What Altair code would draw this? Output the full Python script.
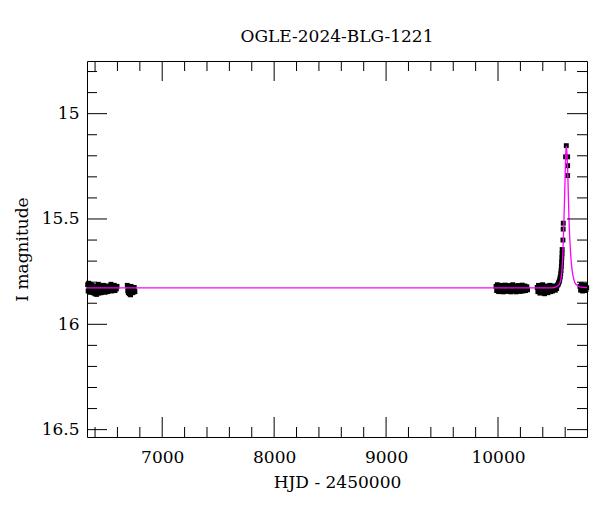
import altair as alt
import pandas as pd

# ---- photometry (HJD - 2450000, I mag) ----
t_a = [6334,6338,6342,6346,6350,6354,6358,6362,6366,6370,6374,6378,6382,6386,6390,6394,6398,6402,6406,6410,
       6414,6418,6422,6426,6430,6434,6438,6442,6446,6450,6455,6460,6465,6470,6475,6480,6485,6490,6495,6500,
       6506,6512,6518,6524,6530,6536,6542,6548,6554,6560,6566,6572,6578,6584,6590,6596]
m_a = [15.812,15.842,15.805,15.835,15.820,15.848,15.810,15.830,15.845,15.815,15.838,15.825,15.850,15.818,15.840,15.828,15.855,15.820,15.843,15.832,
       15.858,15.826,15.847,15.835,15.810,15.852,15.830,15.845,15.820,15.838,15.850,15.825,15.842,15.830,15.815,15.840,15.826,15.848,15.820,15.836,
       15.830,15.845,15.818,15.840,15.828,15.835,15.810,15.842,15.822,15.838,15.830,15.815,15.840,15.826,15.832,15.820]

t_a2 = [6688,6692,6697,6702,6707,6712,6717,6722,6727,6732,6738,6744,6750,6756]
m_a2 = [15.815,15.840,15.850,15.825,15.855,15.835,15.860,15.820,15.845,15.830,15.850,15.838,15.825,15.845]

t_b = [9982,9988,9994,10000,10006,10012,10018,10024,10030,10036,10042,10048,10054,10060,10066,10072,10078,10084,10090,10096,
       10102,10108,10114,10120,10126,10132,10138,10144,10150,10156,10162,10168,10174,10180,10186,10192,10198,10204,10210,10216,
       10222,10228,10234,10240,10246,10252,10258,10264]
m_b = [15.820,15.840,15.812,15.832,15.845,15.818,15.836,15.826,15.842,15.815,15.830,15.846,15.822,15.838,15.814,15.834,15.844,15.820,15.828,15.840,
       15.816,15.836,15.846,15.824,15.832,15.812,15.842,15.828,15.838,15.818,15.846,15.826,15.834,15.816,15.840,15.830,15.844,15.820,15.836,15.814,
       15.842,15.826,15.834,15.818,15.840,15.828,15.822,15.836]

t_c = [10350,10356,10362,10368,10374,10380,10386,10392,10398,10404,10410,10416,10422,10428,10434,10440,10446,10452,10458,10464,
       10470,10476,10482,10488,10494,10500,10506,10512,10518,10524,10530,
       10536,10540,10544,10548,10552,10556,10560,10563,10566,10568,10570,10572,10573,
       10580,10582,10583,
       10604,10610,10622,10622,10622]
m_c = [15.825,15.845,15.815,15.838,15.852,15.820,15.835,15.848,15.812,15.840,15.828,15.855,15.822,15.842,15.818,15.836,15.850,15.826,15.840,15.815,
       15.845,15.830,15.820,15.842,15.835,15.826,15.818,15.838,15.822,15.830,15.814,
       15.812,15.805,15.800,15.795,15.785,15.775,15.760,15.745,15.725,15.705,15.685,15.665,15.645,
       15.600,15.548,15.520,
       15.205,15.152,15.205,15.247,15.294]

t_d = [10732,10738,10744,10750,10756,10762,10768,10774,10780,10786,10792]
m_d = [15.820,15.838,15.812,15.832,15.842,15.818,15.830,15.840,15.815,15.835,15.826]

# ---- microlensing model curve ----
t_model = [6328,10480,10521,10540,10551,10560,10565,10570,10574,10580,10586,10592,10598,10604,10607,
           10610,10613,10616,10622,10628,10634,10640,10646,10652,10658,10670,10685,10700,10729,10795]
m_model = [15.827,15.827,15.822,15.815,15.805,15.790,15.775,15.750,15.720,15.650,15.560,15.450,15.330,15.210,15.170,
           15.155,15.165,15.190,15.260,15.380,15.500,15.580,15.640,15.690,15.725,15.770,15.800,15.812,15.822,15.826]

# ---- axis ticks ----
x_domain = [6328, 10795]
y_domain = [14.75, 16.535]
x_major = [7000, 8000, 9000, 10000]
x_minor = [6400, 6600, 6800, 7200, 7400, 7600, 7800, 8200, 8400, 8600, 8800,
           9200, 9400, 9600, 9800, 10200, 10400, 10600]
y_major = [15, 15.5, 16, 16.5]
y_minor = [14.8, 14.9, 15.1, 15.2, 15.3, 15.4, 15.6, 15.7, 15.8, 15.9,
           16.1, 16.2, 16.3, 16.4]

W, H = 500, 376
FONT = "DejaVu Serif"
FS = 17

obs = pd.DataFrame({
    "t": t_a + t_a2 + t_b + t_c + t_d,
    "m": m_a + m_a2 + m_b + m_c + m_d,
})
model = pd.DataFrame({"t": t_model, "m": m_model})

xs = alt.Scale(domain=x_domain, nice=False, zero=False)
ys = alt.Scale(domain=y_domain, nice=False, zero=False, reverse=True)

ax_x = alt.Axis(
    values=x_major, format="d", ticks=False, domain=False, grid=False,
    labelFont=FONT, labelFontSize=FS, labelColor="black", labelPadding=12,
    title="HJD - 2450000", titleFont=FONT, titleFontSize=FS, titleFontWeight="normal",
    titleColor="black", titlePadding=9)
ax_y = alt.Axis(
    values=y_major, format="~g", ticks=False, domain=False, grid=False,
    labelFont=FONT, labelFontSize=FS, labelColor="black", labelPadding=8,
    title="I magnitude", titleFont=FONT, titleFontSize=FS, titleFontWeight="normal",
    titleColor="black", titlePadding=10)

X = lambda f: alt.X(f, scale=xs, axis=ax_x, title="HJD - 2450000")
Y = lambda f: alt.Y(f, scale=ys, axis=ax_y, title="I magnitude")

points = alt.Chart(obs).mark_square(size=24, color="black", opacity=1).encode(
    x=X("t:Q"), y=Y("m:Q"))

line = alt.Chart(model).mark_line(color="#ff00ff", strokeWidth=1.3, interpolate="monotone").encode(
    x=X("t:Q"), y=Y("m:Q"))

def xticks(vals, length):
    df = pd.DataFrame({"t": vals})
    base = alt.Chart(df).mark_rule(color="black", strokeWidth=1)
    bottom = base.encode(x=X("t:Q"), y=alt.value(H), y2=alt.value(H - length))
    top = base.encode(x=X("t:Q"), y=alt.value(0), y2=alt.value(length))
    return [bottom, top]

def yticks(vals, length):
    df = pd.DataFrame({"m": vals})
    base = alt.Chart(df).mark_rule(color="black", strokeWidth=1)
    left = base.encode(y=Y("m:Q"), x=alt.value(0), x2=alt.value(length))
    right = base.encode(y=Y("m:Q"), x=alt.value(W), x2=alt.value(W - length))
    return [left, right]

layers = [points, line] + xticks(x_major, 20) + xticks(x_minor, 10) + yticks(y_major, 20) + yticks(y_minor, 10)

chart = alt.layer(*layers).properties(
    width=W, height=H,
    title=alt.TitleParams("OGLE-2024-BLG-1221", font=FONT, fontSize=FS, fontWeight="normal",
                          color="black", offset=15),
    autosize=alt.AutoSizeParams(type="none"),
    padding={"left": 79, "top": 53, "right": 5, "bottom": 60},
    background="white",
).configure_view(stroke="black", strokeWidth=1)

chart.save("out.html", embed_options={"renderer": "svg", "actions": False})
